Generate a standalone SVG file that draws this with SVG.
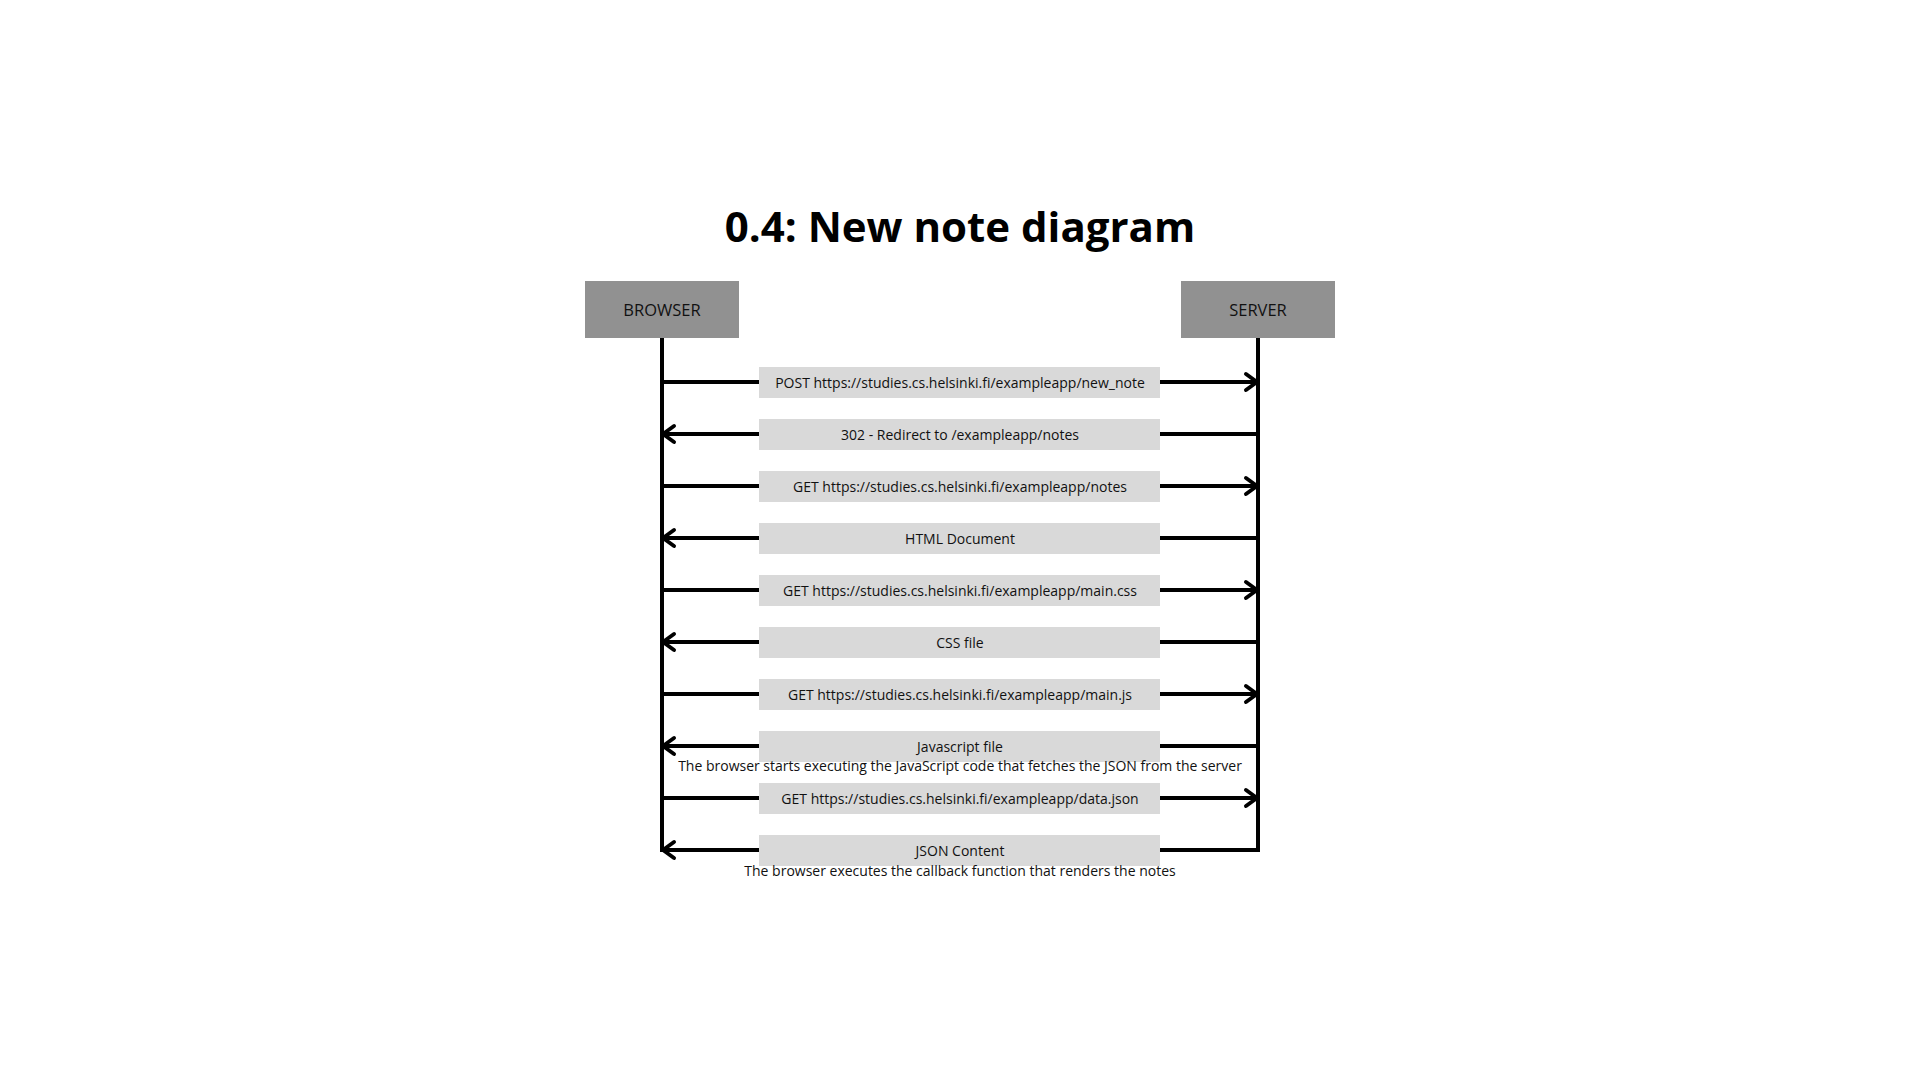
<svg xmlns="http://www.w3.org/2000/svg" width="1920" height="1080" viewBox="0 0 1920 1080">
<defs>
<style>
.actor{fill:#919191}
.actor-t{font-family:"Open Sans","Liberation Sans",sans-serif;font-size:16.5px;fill:#111;text-anchor:middle}
.lab{fill:#d9d9d9}
.lab-t{font-family:"Open Sans","Liberation Sans",sans-serif;font-size:14px;fill:#111;text-anchor:middle}
.note{font-family:"Open Sans","Liberation Sans",sans-serif;font-size:14px;fill:#111;text-anchor:middle}
.ln{stroke:#000;stroke-width:4;fill:none}
.ah{stroke:#000;stroke-width:4;fill:none;stroke-linecap:round;stroke-linejoin:round}
.title{font-family:"Open Sans","Liberation Sans",sans-serif;font-size:42px;font-weight:bold;fill:#000;text-anchor:middle}
</style>
</defs>
<rect width="1920" height="1080" fill="#fff"/>
<text class="title" x="960" y="242">0.4: New note diagram</text>
<g id="browser">
<rect class="actor" x="585" y="281" width="154" height="57"/>
<text class="actor-t" x="662" y="316">BROWSER</text>
</g>
<g id="server">
<rect class="actor" x="1181" y="281" width="154" height="57"/>
<text class="actor-t" x="1258" y="316">SERVER</text>
</g>
<g id="connectors">
<path class="ln" d="M662 338 V852"/>
<path class="ln" d="M1258 338 V852"/>
<path class="ln" d="M662 382 H759 M1160 382 H1257"/>
<polyline class="ah" points="1246,374 1257,382 1246,390"/>
<path class="ln" d="M663 434 H759 M1160 434 H1258"/>
<polyline class="ah" points="674,426 663,434 674,442"/>
<path class="ln" d="M662 486 H759 M1160 486 H1257"/>
<polyline class="ah" points="1246,478 1257,486 1246,494"/>
<path class="ln" d="M663 538 H759 M1160 538 H1258"/>
<polyline class="ah" points="674,530 663,538 674,546"/>
<path class="ln" d="M662 590 H759 M1160 590 H1257"/>
<polyline class="ah" points="1246,582 1257,590 1246,598"/>
<path class="ln" d="M663 642 H759 M1160 642 H1258"/>
<polyline class="ah" points="674,634 663,642 674,650"/>
<path class="ln" d="M662 694 H759 M1160 694 H1257"/>
<polyline class="ah" points="1246,686 1257,694 1246,702"/>
<path class="ln" d="M663 746 H759 M1160 746 H1258"/>
<polyline class="ah" points="674,738 663,746 674,754"/>
<path class="ln" d="M662 798 H759 M1160 798 H1257"/>
<polyline class="ah" points="1246,790 1257,798 1246,806"/>
<path class="ln" d="M663 850 H759 M1160 850 H1260"/>
<polyline class="ah" points="674,842 663,850 674,858"/>
</g>
<g id="labels">
<g id="m1"><rect class="lab" x="759" y="367" width="401" height="31"/><text class="lab-t" x="960" y="388">POST https://studies.cs.helsinki.fi/exampleapp/new_note</text></g>
<g id="m2"><rect class="lab" x="759" y="419" width="401" height="31"/><text class="lab-t" x="960" y="440">302 - Redirect to /exampleapp/notes</text></g>
<g id="m3"><rect class="lab" x="759" y="471" width="401" height="31"/><text class="lab-t" x="960" y="492">GET https://studies.cs.helsinki.fi/exampleapp/notes</text></g>
<g id="m4"><rect class="lab" x="759" y="523" width="401" height="31"/><text class="lab-t" x="960" y="544">HTML Document</text></g>
<g id="m5"><rect class="lab" x="759" y="575" width="401" height="31"/><text class="lab-t" x="960" y="596">GET https://studies.cs.helsinki.fi/exampleapp/main.css</text></g>
<g id="m6"><rect class="lab" x="759" y="627" width="401" height="31"/><text class="lab-t" x="960" y="648">CSS file</text></g>
<g id="m7"><rect class="lab" x="759" y="679" width="401" height="31"/><text class="lab-t" x="960" y="700">GET https://studies.cs.helsinki.fi/exampleapp/main.js</text></g>
<g id="m8"><rect class="lab" x="759" y="731" width="401" height="31"/><text class="lab-t" x="960" y="752">Javascript file</text></g>
<g id="m9"><rect class="lab" x="759" y="783" width="401" height="31"/><text class="lab-t" x="960" y="804">GET https://studies.cs.helsinki.fi/exampleapp/data.json</text></g>
<g id="m10"><rect class="lab" x="759" y="835" width="401" height="31"/><text class="lab-t" x="960" y="856">JSON Content</text></g>
</g>
<g id="notes">
<text class="note" x="960" y="771">The browser starts executing the JavaScript code that fetches the JSON from the server</text>
<text class="note" x="960" y="876">The browser executes the callback function that renders the notes</text>
</g>
</svg>
